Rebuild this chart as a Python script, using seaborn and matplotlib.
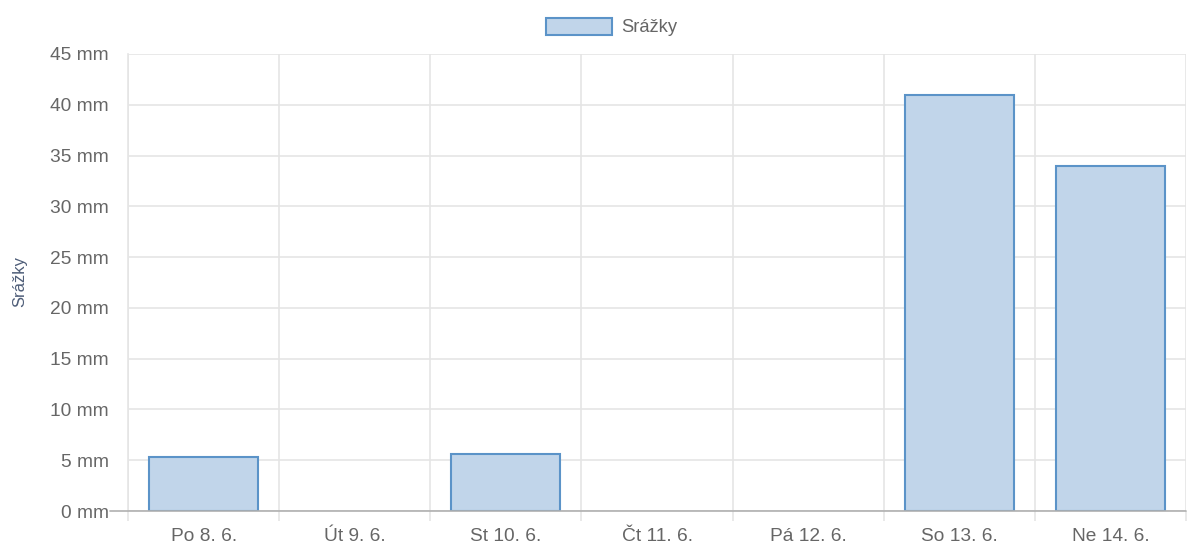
import seaborn as sns
import matplotlib.pyplot as plt
import pandas as pd
from matplotlib.patches import Patch

days = ["Po 8. 6.", "Út 9. 6.", "St 10. 6.", "Čt 11. 6.", "Pá 12. 6.", "So 13. 6.", "Ne 14. 6."]
rain = [5.3, 0, 5.6, 0, 0, 41, 34]
y_ticks = [0, 5, 10, 15, 20, 25, 30, 35, 40, 45]

fill_col = "#c1d5ea"
edge_col = "#5b93c8"
grid_col = "#e5e5e5"
text_col = "#666666"

sns.set_style("white")
plt.rcParams['font.family'] = ['Liberation Sans', 'DejaVu Sans']

df = pd.DataFrame({"den": days, "srazky": rain})

fig = plt.figure(figsize=(11.87, 5.45), dpi=100)
ax = fig.add_axes([128 / 1187, 34 / 545, 1058 / 1187, 457 / 545])

sns.barplot(data=df, x="den", y="srazky", color=fill_col, width=0.72,
            edgecolor=edge_col, linewidth=1.5, saturation=1, ax=ax, zorder=3)
for p in ax.patches:
    p.set_facecolor(fill_col)
    if p.get_height() == 0:
        p.set_linewidth(0)

ax.set_xlim(-0.5, len(days) - 0.5)
ax.set_ylim(0, 45)
ax.set_yticks(y_ticks)
ax.set_yticklabels([f"{v} mm" for v in y_ticks])

# grid lines between categories (Chart.js offset grid)
ax.set_xticks([i - 0.5 for i in range(len(days) + 1)], minor=True)
ax.grid(True, which="minor", axis="x", color=grid_col, linewidth=1.2, zorder=0)
ax.grid(True, which="major", axis="y", color=grid_col, linewidth=1.2, zorder=0)
ax.grid(False, which="major", axis="x")
ax.axhline(0, color="#b0b0b0", linewidth=1.2, zorder=4, xmin=-0.017, clip_on=False)

ax.tick_params(axis="y", which="major", length=13, color=grid_col, width=1.2,
               labelsize=13.8, labelcolor=text_col, pad=1)
ax.tick_params(axis="x", which="major", length=0, labelsize=13.8, labelcolor=text_col, pad=12)
ax.tick_params(axis="x", which="minor", length=7, color=grid_col, width=1.2, bottom=True)
ax.tick_params(axis="y", which="minor", left=False)

for s in ["top", "right", "bottom"]:
    ax.spines[s].set_visible(False)
ax.spines["left"].set_color(grid_col)
ax.spines["left"].set_linewidth(1.2)

ax.set_xlabel("")
ax.set_ylabel("Srážky", fontsize=12, color="#4e5d78")
ax.yaxis.set_label_coords(-0.095, 0.503)

handle = Patch(facecolor=fill_col, edgecolor=edge_col, linewidth=1.5)
fig.legend([handle], ["Srážky"], loc="center", bbox_to_anchor=(612 / 1187, 1 - 27 / 545),
           frameon=False, fontsize=13.2, handlelength=3.6, handleheight=1.05,
           labelcolor=text_col, handletextpad=0.5)

plt.savefig("out.png", dpi=100)
